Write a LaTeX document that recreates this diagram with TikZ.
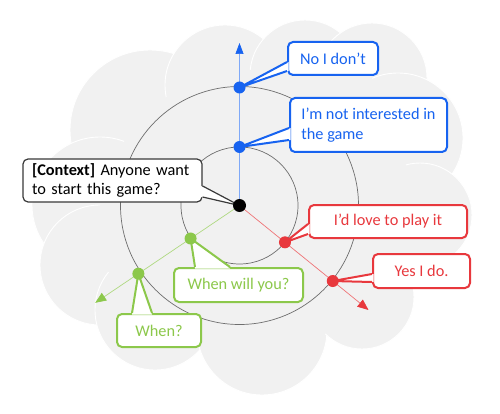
\documentclass[tikz,border=0pt]{standalone}
\usepackage{fontspec}
\setmainfont{Carlito}
\usetikzlibrary{arrows.meta,calc}
\definecolor{cloud}{HTML}{F1F1F1}
\definecolor{cblue}{HTML}{1763F0}
\definecolor{cred}{HTML}{E8383D}
\definecolor{cgreen}{HTML}{8CC84B}
\definecolor{ringgray}{HTML}{6E6E6E}
\definecolor{ctxgray}{HTML}{3A3A3A}
\begin{document}
\begin{tikzpicture}[x=1pt,y=-1pt,
  bump/.style={fill=cloud,draw=white,line width=0.9pt},
  ring/.style={draw=ringgray,line width=0.7pt},
  axisline/.style={line width=0.7pt},
  box/.style={draw=#1,text=#1,fill=white,line width=2pt,rounded corners=5pt,inner sep=0pt,font=\fontsize{16.3}{19.5}\selectfont},
  dotnode/.style={circle,fill=#1,minimum size=12pt,inner sep=0pt},
  ptr/.style={draw=#1,line width=2pt,line join=round}]
\useasboundingbox (0,0) rectangle (500,414);
% cloud
\fill[white] (0,0) rectangle (500,414);
\foreach \cx/\cy/\r in {150/130/80, 225/85/60, 305/75/55, 372/78/55, 398/138/65, 420/215/52, 100/205/68, 100/265/60, 155/310/60, 262/330/65, 362/297/52}
  \draw[bump] (\cx,\cy) circle[radius=\r];
\fill[cloud] (255,210) ellipse[x radius=150, y radius=140];
\fill[cloud] (150,130) -- (225,85) -- (305,75) -- (372,78) -- (398,138) -- (420,215) -- (362,297) -- (262,330) -- (155,310) -- (100,265) -- (100,205) -- cycle;
% centre and rings
\coordinate (O) at (239.5,205.5);
\draw[ring] (O) circle[radius=58.5];
\draw[ring] (O) circle[radius=119];
% axes
\coordinate (btip) at (239.5,43);
\coordinate (rtip) at (368.5,310);
\coordinate (gtip) at (95.2,302.8);
\draw[axisline,draw=cblue!55,-{Triangle[length=11pt,width=8pt,color=cblue]}] (O) -- (btip);
\draw[axisline,draw=cred!70,-{Triangle[length=11pt,width=9pt,color=cred]}] (O) -- (rtip);
\draw[axisline,draw=cgreen!70,-{Triangle[length=11pt,width=9pt,color=cgreen]}] (O) -- (gtip);
% dot positions
\coordinate (B1) at ($(O)+(-90:58.5)$);
\coordinate (B2) at ($(O)+(-90:118)$);
\coordinate (R1) at ($(O)+(39:58.5)$);
\coordinate (R2) at ($(O)+(39:120)$);
\coordinate (G1) at ($(O)+(146:59)$);
\coordinate (G2) at ($(O)+(146:122)$);
% boxes
\node[box=ctxgray,line width=1.2pt,text=black,text width=161pt,inner xsep=9pt,minimum height=43pt,align=left] (ctx) at (112.5,180.5) {\textbf{[Context]} Anyone want\\to start this game?};
\node[box=cblue,minimum width=90pt,minimum height=33pt] (no) at (333,58.5) {No I don’t};
\node[box=cblue,minimum width=157pt,minimum height=54pt,align=left] (int) at (368.5,125) {I’m not interested in\\the game};
\node[box=cred,minimum width=158pt,minimum height=33pt] (love) at (388,221.5) {I’d love to play it};
\node[box=cred,minimum width=97pt,minimum height=34pt] (yes) at (421.5,271) {Yes I do.};
\node[box=cgreen,minimum width=129pt,minimum height=34pt] (ww) at (238.5,285) {When will you?};
\node[box=cgreen,minimum width=84pt,minimum height=33pt] (wh) at (159,330.5) {When?};
% pointers
\fill[white] ([xshift=-1.5pt,yshift=-5.5pt]ctx.east) -- (O) -- ([xshift=-1.5pt,yshift=-16.5pt]ctx.east) -- cycle;
\draw[ptr=ctxgray,line width=1.2pt] ([yshift=-5.5pt]ctx.east) -- (O) -- ([yshift=-16.5pt]ctx.east);
\fill[white] ([xshift=1.5pt,yshift=-3.5pt]no.west) -- (B2) -- ([xshift=1.5pt,yshift=-12.5pt]no.west) -- cycle;
\draw[ptr=cblue] ([yshift=-3.5pt]no.west) -- (B2) -- ([yshift=-12.5pt]no.west);
\fill[white] ([xshift=1.5pt,yshift=-3pt]int.west) -- (B1) -- ([xshift=1.5pt,yshift=-15pt]int.west) -- cycle;
\draw[ptr=cblue] ([yshift=-3pt]int.west) -- (B1) -- ([yshift=-15pt]int.west);
\fill[white] ([xshift=1.5pt,yshift=-2.5pt]love.west) -- (R1) -- ([xshift=1.5pt,yshift=-12.5pt]love.west) -- cycle;
\draw[ptr=cred] ([yshift=-2.5pt]love.west) -- (R1) -- ([yshift=-12.5pt]love.west);
\fill[white] ([xshift=1.5pt,yshift=-3pt]yes.west) -- (R2) -- ([xshift=1.5pt,yshift=-11pt]yes.west) -- cycle;
\draw[ptr=cred] ([yshift=-3pt]yes.west) -- (R2) -- ([yshift=-11pt]yes.west);
\fill[white] ([xshift=-43.5pt,yshift=-1.5pt]ww.north) -- (G1) -- ([xshift=-8.5pt,yshift=-1.5pt]ww.north) -- cycle;
\draw[ptr=cgreen] ([xshift=-43.5pt]ww.north) -- (G1) -- ([xshift=-8.5pt]ww.north);
\fill[white] ([xshift=-27pt,yshift=-1.5pt]wh.north) -- (G2) -- ([xshift=-7pt,yshift=-1.5pt]wh.north) -- cycle;
\draw[ptr=cgreen] ([xshift=-27pt]wh.north) -- (G2) -- ([xshift=-7pt]wh.north);
% dots
\node[dotnode=black,minimum size=13pt] (o) at (O) {};
\node[dotnode=cblue] (b1) at (B1) {};
\node[dotnode=cblue] (b2) at (B2) {};
\node[dotnode=cred] (r1) at (R1) {};
\node[dotnode=cred] (r2) at (R2) {};
\node[dotnode=cgreen] (g1) at (G1) {};
\node[dotnode=cgreen] (g2) at (G2) {};
\end{tikzpicture}
\end{document}
